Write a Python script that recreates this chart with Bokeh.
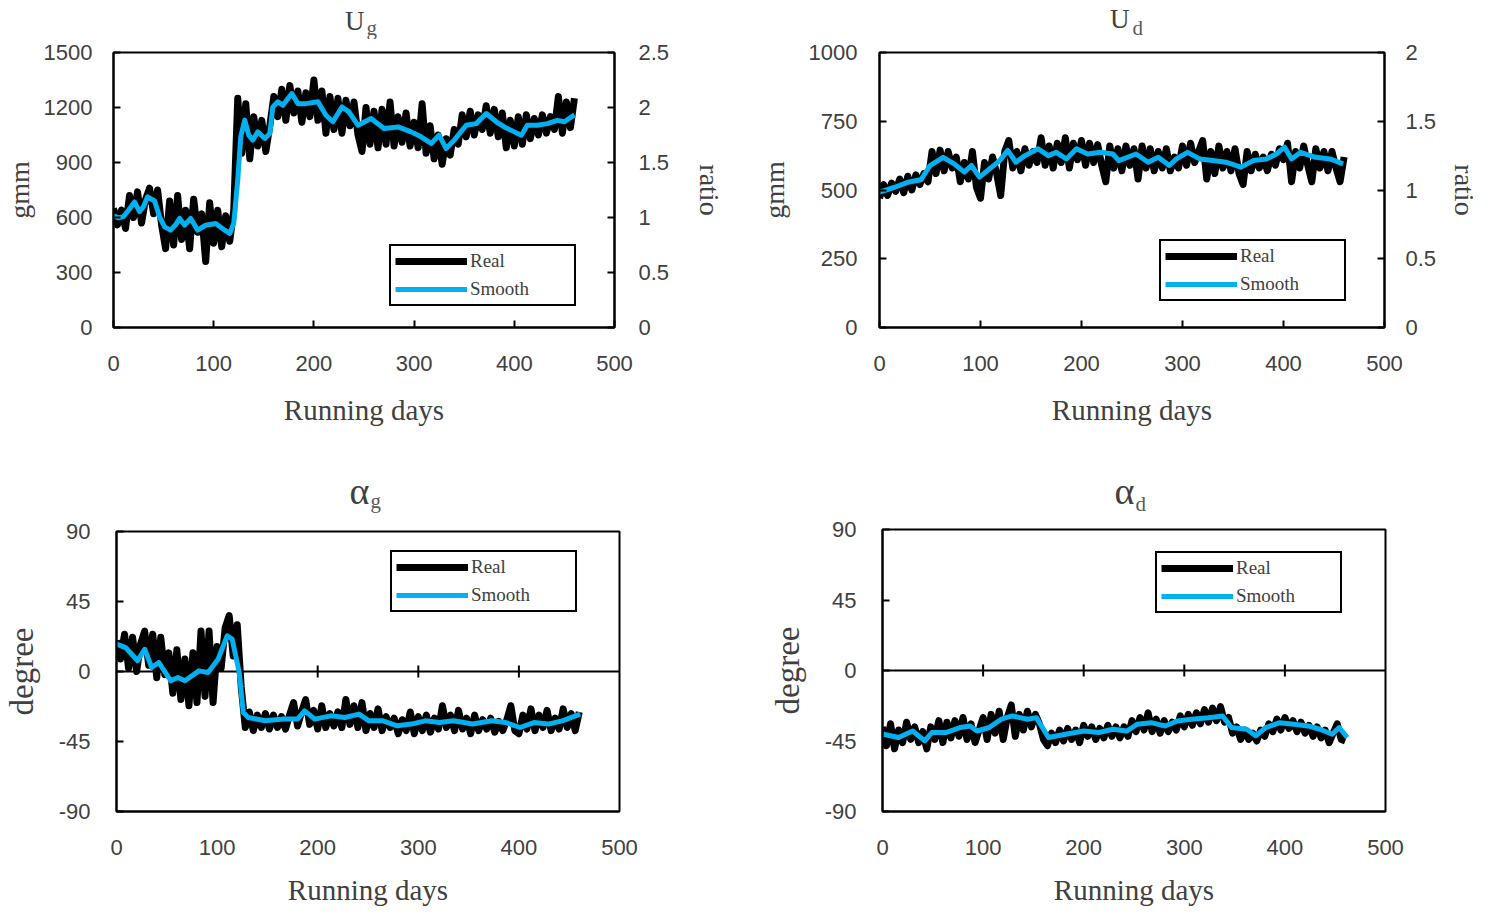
from bokeh.plotting import figure
from bokeh.models import (Range1d, LinearAxis, FixedTicker, Legend, LegendItem,
                          Span, CustomJSTickFormatter)
from bokeh.core.properties import value
from bokeh.layouts import row, column
from bokeh.embed import file_html
from bokeh.resources import INLINE

# ---------------- data ----------------
real_days = list(range(0, 461, 4))

ug_real = [650, 560, 640, 540, 720, 600, 740, 570, 700, 760,
           620, 750, 560, 430, 690, 450, 720, 480, 640, 430,
           700, 520, 620, 360, 680, 460, 640, 440, 610, 470,
           640, 1250, 950, 1220, 920, 1150, 990, 1130, 960, 1100,
           1260, 1150, 1300, 1130, 1320, 1170, 1290, 1120, 1280, 1150,
           1350, 1130, 1290, 1060, 1260, 1080, 1250, 1060, 1240, 1100,
           1230, 1050, 960, 1200, 1000, 1180, 980, 1190, 1000, 1230,
           990, 1150, 1010, 1170, 990, 1120, 980, 1220, 950, 1100,
           920, 1050, 890, 1030, 940, 1080, 1000, 1160, 1040, 1180,
           1050, 1160, 1080, 1210, 1060, 1190, 1040, 1170, 980, 1130,
           990, 1150, 1000, 1160, 1030, 1140, 1050, 1160, 1060, 1150,
           1080, 1260, 1060, 1230, 1090, 1250]
ug_smooth_days = [0, 5, 10, 15, 21, 26, 30, 34, 41, 46, 51, 57, 62, 66, 71, 77, 84, 92, 102, 111,
                  116, 120, 124, 127, 131, 135, 139, 144, 151, 156, 159, 164, 169, 178, 184, 192,
                  204, 212, 219, 228, 235, 244, 257, 270, 284, 297, 307, 317, 325, 332, 340, 352,
                  362, 372, 382, 390, 400, 407, 413, 423, 433, 443, 450, 460]
ug_smooth = [610, 598, 605, 640, 685, 632, 660, 713, 690, 604, 549, 531, 560, 595, 558, 595, 531,
             558, 567, 531, 513, 567, 804, 1040, 1131, 1049, 1022, 1067, 1031, 1058, 1203, 1231,
             1212, 1276, 1221, 1221, 1231, 1158, 1122, 1203, 1176, 1103, 1140, 1085, 1094, 1067,
             1040, 1004, 1049, 976, 1022, 1103, 1112, 1167, 1122, 1094, 1067, 1049, 1103, 1103,
             1112, 1130, 1122, 1160]

ud_real = [470, 520, 480, 525, 495, 540, 490, 550, 500, 555,
           520, 560, 530, 640, 560, 645, 570, 640, 580, 620,
           530, 600, 540, 640, 510, 470, 600, 540, 620, 560,
           480, 640, 680, 580, 640, 570, 650, 590, 640, 600,
           690, 590, 660, 580, 670, 600, 690, 580, 670, 610,
           680, 590, 670, 600, 665, 590, 530, 660, 580, 650,
           570, 660, 590, 650, 540, 660, 580, 650, 570, 640,
           580, 650, 570, 620, 580, 660, 590, 670, 600, 640,
           680, 540, 640, 560, 660, 580, 640, 570, 650, 560,
           520, 640, 570, 630, 580, 620, 570, 630, 590, 650,
           610, 670, 530, 640, 580, 660, 590, 530, 650, 580,
           640, 570, 640, 580, 530, 620]
ud_smooth_days = [0, 15, 28, 41, 50, 63, 74, 84, 91, 99, 109, 119, 127, 135, 144, 157, 167, 175,
                  185, 195, 206, 219, 231, 237, 254, 266, 276, 287, 294, 305, 317, 330, 343, 358,
                  370, 383, 393, 401, 408, 417, 432, 446, 459]
ud_smooth = [492, 510, 528, 537, 589, 619, 595, 565, 589, 547, 577, 607, 644, 601, 625, 650, 625,
             637, 613, 650, 631, 637, 631, 607, 631, 601, 619, 589, 613, 637, 613, 607, 601, 583,
             607, 613, 631, 656, 613, 637, 619, 613, 595]

ag_real = [20, 8, 24, 2, 22, 0, 18, 26, 4, 24,
           -4, 22, -2, 12, -14, 14, -18, 8, -22, 12,
           -20, 26, -16, 26, -20, 16, 2, 28, 36, 10,
           30, -10, -36, -26, -38, -28, -36, -27, -37, -28,
           -36, -29, -37, -28, -20, -35, -26, -18, -34, -25,
           -37, -22, -36, -27, -35, -26, -36, -18, -34, -22,
           -36, -20, -38, -27, -36, -24, -38, -29, -36, -30,
           -40, -31, -38, -26, -40, -29, -38, -28, -39, -30,
           -37, -22, -36, -28, -38, -25, -37, -30, -40, -28,
           -38, -31, -37, -30, -39, -32, -38, -31, -22, -38,
           -40, -28, -37, -24, -38, -28, -36, -25, -38, -30,
           -37, -24, -36, -27, -38, -26]
ag_smooth_days = [0, 9, 21, 28, 35, 42, 54, 61, 68, 82, 91, 101, 110, 115, 122, 126, 131, 148, 166,
                  180, 187, 197, 213, 227, 241, 251, 265, 279, 293, 307, 321, 335, 354, 373, 387,
                  401, 415, 429, 443, 461]
ag_smooth = [17.6, 15.4, 6.9, 14.3, 2.6, 5.8, -6, -3.9, -6, 0.4, -0.6, 7.9, 22.9, 20.8, -0.6,
             -26.3, -29.6, -31.7, -30.6, -30.6, -25.3, -30.6, -28.5, -29.6, -27.4, -31.7, -31.7,
             -34.9, -33.8, -31.7, -32.8, -31.7, -33.8, -31.7, -32.8, -36, -32.8, -33.8, -31.7, -27.4]

ad_real = [-36, -48, -34, -50, -38, -46, -33, -44, -36, -46,
           -39, -50, -36, -44, -32, -46, -33, -43, -32, -42,
           -30, -44, -34, -46, -38, -30, -44, -28, -40, -26,
           -44, -30, -22, -42, -28, -38, -26, -36, -28, -34,
           -44, -48, -40, -46, -38, -45, -37, -44, -38, -46,
           -35, -42, -36, -44, -37, -43, -35, -42, -36, -43,
           -36, -42, -32, -39, -30, -38, -27, -39, -31, -40,
           -32, -39, -33, -38, -29, -36, -28, -35, -27, -34,
           -25, -33, -24, -32, -23, -33, -30, -40, -36, -44,
           -38, -44, -40, -45, -38, -42, -34, -39, -31, -38,
           -30, -37, -32, -39, -33, -40, -35, -42, -36, -43,
           -38, -46, -40, -34, -44, -45]
ad_smooth_days = [1, 16, 30, 42, 49, 63, 77, 87, 94, 106, 118, 129, 144, 153, 165, 182, 200, 215,
                  229, 243, 253, 267, 281, 293, 307, 324, 338, 347, 362, 371, 381, 395, 409, 423,
                  435, 447, 454, 462]
ad_smooth = [-40.7, -42.8, -38.6, -44.9, -39.6, -39.6, -36.4, -35.4, -38.6, -36.4, -31.1, -29,
             -31.1, -30.1, -42.8, -40.7, -38.6, -39.6, -37.5, -38.6, -34.3, -33.3, -35.4, -32.2,
             -31.1, -30.1, -29, -36.4, -37.5, -41.7, -36.4, -33.3, -34.3, -35.4, -37.5, -40.7,
             -36.4, -42.8]

x_ticks = [0, 100, 200, 300, 400, 500]
zero_line_ticks = [100, 200, 300, 400]
ug_ticks = [0, 300, 600, 900, 1200, 1500]
ud_ticks = [0, 250, 500, 750, 1000]
deg_ticks = [-90, -45, 0, 45, 90]
ug_ratio_ticks = [0, 0.5, 1, 1.5, 2, 2.5]
ud_ratio_ticks = [0, 0.5, 1, 1.5, 2]
series_names = ["Real", "Smooth"]

# ---------------- style ----------------
TXT = "#404040"
TTL = "#404040"
SUBC = "#5a5a5a"
SERIF = "Liberation Serif"
SANS = "Liberation Sans"
BLUE = "#00B0F0"
TICK_SIZE = "22px"
MID = 0.3375  # baseline-to-middle distance of Liberation Serif, in em
PLAIN = "return String(tick)"  # plain hyphen-minus, no trailing zeros


def style_axis(ax, tick_in, label, label_size="29px", tick_standoff=20, label_standoff=12):
    ax.formatter = CustomJSTickFormatter(code=PLAIN)
    ax.major_tick_in = tick_in
    ax.major_tick_out = 0
    ax.minor_tick_line_color = None
    ax.major_tick_line_width = 2
    ax.major_tick_line_color = "black"
    ax.axis_line_width = 2
    ax.axis_line_color = "black"
    ax.major_label_text_font = SANS
    ax.major_label_text_font_size = TICK_SIZE
    ax.major_label_text_color = TXT
    ax.major_label_standoff = tick_standoff
    ax.axis_label = label
    ax.axis_label_text_font = SERIF
    ax.axis_label_text_font_size = label_size
    ax.axis_label_text_font_style = "normal"
    ax.axis_label_text_color = TXT
    ax.axis_label_standoff = label_standoff


def title_strip(fw, h, lb, rb, main, main_dx, main_base, main_px, sub, sub_dx, sub_base, sub_px):
    # a text-only strip whose frame lines up with the panel frame below it
    tf = figure(frame_width=fw, frame_height=h, x_range=Range1d(0, 500), y_range=Range1d(h, 0),
                output_backend="svg", toolbar_location=None, title=None,
                min_border_left=lb, min_border_right=rb, min_border_top=0,
                min_border_bottom=0)
    tf.xaxis.visible = False
    tf.yaxis.visible = False
    tf.grid.visible = False
    tf.outline_line_color = None
    tf.background_fill_color = "white"
    tf.border_fill_color = "white"
    tf.text(x=[250], y=[main_base - MID * main_px], text=[main], x_offset=main_dx,
            text_align="right", text_baseline="middle", text_font=value(SERIF),
            text_font_size=f"{main_px}px", text_color=TTL)
    tf.text(x=[250], y=[sub_base - MID * sub_px], text=[sub], x_offset=sub_dx,
            text_align="left", text_baseline="middle", text_font=value(SERIF),
            text_font_size=f"{sub_px}px", text_color=SUBC)
    return tf


def make_panel(fw, fh, borders, yr, yticks, ylabel, real, sm_days, sm_vals, legend_loc,
               ratio=None, zero=False, ylabel_size="28px", ystandoffs=(21, 6),
               rstandoffs=(24, 22), xlab_standoff=20):
    l, r, t, b = borders
    p = figure(frame_width=fw, frame_height=fh, x_range=Range1d(0, 500),
               y_range=Range1d(*yr), output_backend="svg", toolbar_location=None,
               min_border_left=l, min_border_right=r, min_border_top=t,
               min_border_bottom=b, title=None)
    p.grid.visible = False
    p.outline_line_color = "black"
    p.outline_line_width = 2
    p.outline_line_alpha = 1
    p.background_fill_color = "white"
    p.border_fill_color = "white"

    xa = p.xaxis[0]
    xa.ticker = FixedTicker(ticks=x_ticks)
    style_axis(xa, 0 if zero else 7, "Running days", tick_standoff=28,
               label_standoff=xlab_standoff)

    ya = p.yaxis[0]
    ya.ticker = FixedTicker(ticks=yticks)
    style_axis(ya, 7, ylabel, label_size=ylabel_size,
               tick_standoff=ystandoffs[0], label_standoff=ystandoffs[1])

    if ratio is not None:
        p.extra_y_ranges = {"ratio": Range1d(0, ratio[-1])}
        ra = LinearAxis(y_range_name="ratio", ticker=FixedTicker(ticks=ratio))
        style_axis(ra, 7, "ratio", label_size="28px", tick_standoff=rstandoffs[0],
                   label_standoff=rstandoffs[1])
        p.add_layout(ra, "right")

    if zero:
        p.add_layout(Span(location=0, dimension="width", line_color="black",
                          line_width=2, level="underlay"))
        th = (yr[1] - yr[0]) / fh * 6
        p.segment(x0=zero_line_ticks, x1=zero_line_ticks,
                  y0=[-th] * len(zero_line_ticks), y1=[th] * len(zero_line_ticks),
                  line_color="black", line_width=2)

    r_real = p.line(real_days, real, line_color="black", line_width=7, line_join="round")
    r_sm = p.line(sm_days, sm_vals, line_color=BLUE, line_width=5, line_join="round")

    leg = Legend(items=[LegendItem(label=series_names[0], renderers=[r_real]),
                        LegendItem(label=series_names[1], renderers=[r_sm])],
                 location=legend_loc)
    leg.border_line_color = "black"
    leg.border_line_width = 2
    leg.border_line_alpha = 1
    leg.background_fill_alpha = 1
    leg.padding = 4
    leg.spacing = 6
    leg.margin = 0
    leg.glyph_width = 72
    leg.glyph_height = 22
    leg.label_height = 22
    leg.label_standoff = 3
    leg.label_width = 100
    leg.label_text_font = SERIF
    leg.label_text_font_size = "19px"
    leg.label_text_color = TXT
    p.add_layout(leg)
    return p


t1 = title_strip(501, 39, 110, 133, "U", 0.5, 30, 27, "g", 2.5, 34.5, 21)
p1 = make_panel(501, 275, (110, 133, 13, 128), (0, 1500), ug_ticks, "gmm",
                ug_real, ug_smooth_days, ug_smooth, (276, 21), ratio=ug_ratio_ticks)

t2 = title_strip(505, 39, 132, 99, "U", -2.5, 28, 27, "d", 0.5, 34.5, 21)
p2 = make_panel(505, 275, (132, 99, 13, 128), (0, 1000), ud_ticks, "gmm",
                ud_real, ud_smooth_days, ud_smooth, (280, 26), ratio=ud_ratio_ticks,
                ystandoffs=(22, 16), rstandoffs=(21, 10))

t3 = title_strip(503, 63, 116, 125, "α", 1.5, 48, 38, "g", 2.5, 53, 21)
p3 = make_panel(503, 280, (116, 125, 13, 104), (-90, 90), deg_ticks, "degree",
                ag_real, ag_smooth_days, ag_smooth, (274, 199), zero=True,
                ylabel_size="33px", ystandoffs=(26, 16), xlab_standoff=16)

t4 = title_strip(503, 61, 138, 95, "α", 0.5, 48, 38, "d", 1.5, 56, 21)
p4 = make_panel(503, 282, (138, 95, 13, 104), (-90, 90), deg_ticks, "degree",
                ad_real, ad_smooth_days, ad_smooth, (273, 198), zero=True,
                ylabel_size="33px", ystandoffs=(26, 16), xlab_standoff=16)

layout = column(row(column(t1, p1), column(t2, p2)),
                row(column(t3, p3), column(t4, p4)))
open("out.html", "w").write(file_html(layout, INLINE))
